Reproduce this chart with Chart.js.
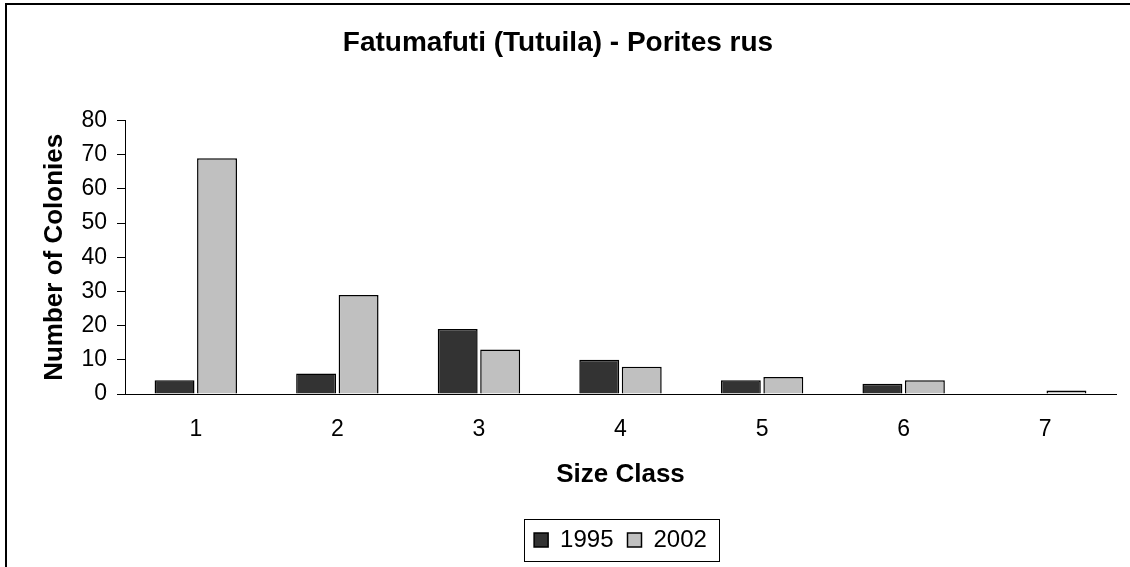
<!DOCTYPE html>
<html>
<head>
<meta charset="utf-8">
<script src="https://cdn.jsdelivr.net/npm/chart.js@4/dist/chart.umd.min.js"></script>
<style>
  html, body { margin: 0; padding: 0; background: #fff; overflow: hidden; }
  #wrap { width: 1130px; height: 567px; }
</style>
</head>
<body>
<div id="wrap"><canvas id="myChart" width="1130" height="567"></canvas></div>
<script>
const sizeClasses = ["1", "2", "3", "4", "5", "6", "7"];
const counts1995 = [4, 6, 19, 10, 4, 3, 0];
const counts2002 = [69, 29, 13, 8, 5, 4, 1];

// outer frame + box round the legend items
const framePlugin = {
  id: "frame",
  beforeDraw(chart) {
    const c = chart.ctx;
    c.save();
    c.fillStyle = "#fff";
    c.fillRect(0, 0, chart.width, chart.height);
    c.strokeStyle = "#000";
    c.lineWidth = 2;
    c.strokeRect(6, 4, 1200, 700);
    c.restore();
  },
  afterDraw(chart) {
    const boxes = chart.legend.legendHitBoxes;
    if (!boxes || !boxes.length) return;
    const left = Math.min(...boxes.map((b) => b.left)) - 10;
    const right = Math.max(...boxes.map((b) => b.left + b.width)) + 12;
    const mid = boxes[0].top + boxes[0].height / 2;
    const c = chart.ctx;
    c.save();
    c.strokeStyle = "#000";
    c.lineWidth = 1;
    c.strokeRect(Math.round(left) + 0.5, Math.round(mid - 21) + 0.5, Math.round(right - left), 42);
    c.restore();
  }
};

Chart.defaults.font.family = "Arial, 'Liberation Sans', sans-serif";
Chart.defaults.color = "#000";

const ctx = document.getElementById("myChart").getContext("2d");
new Chart(ctx, {
  type: "bar",
  data: {
    labels: sizeClasses,
    datasets: [
      {
        label: "1995",
        data: counts1995,
        backgroundColor: "#333333",
        borderColor: "#000",
        borderWidth: 1.5,
      },
      {
        label: "2002",
        data: counts2002,
        backgroundColor: "#c0c0c0",
        borderColor: "#000",
        borderWidth: 1.5,
      },
    ],
  },
  options: {
    responsive: false,
    animation: false,
    layout: { padding: { left: 0, right: 14, top: 0, bottom: 5 } },
    datasets: {
      bar: { categoryPercentage: 0.6, barPercentage: 0.94 },
    },
    plugins: {
      title: {
        display: true,
        text: "Fatumafuti (Tutuila) - Porites rus",
        font: { size: 28, weight: "bold" },
        padding: { top: 26, bottom: 61 },
      },
      legend: {
        position: "bottom",
        fullSize: false,
        labels: {
          boxWidth: 14,
          boxHeight: 14,
          font: { size: 24 },
          padding: 14,
          color: "#000",
        },
      },
      tooltip: { enabled: false },
    },
    scales: {
      x: {
        grid: { display: false, drawTicks: false, tickLength: 0 },
        border: { display: true, color: "#000", width: 1 },
        ticks: { font: { size: 23 }, padding: 22 },
        title: {
          display: true,
          text: "Size Class",
          font: { size: 26, weight: "bold" },
          padding: { top: 0, bottom: 24 },
        },
        afterFit(scale) {
          scale.height = 120;
        },
      },
      y: {
        min: 0,
        max: 80,
        ticks: { stepSize: 10, font: { size: 23 }, padding: 10 },
        grid: { drawOnChartArea: false, tickLength: 8, color: "#000" },
        border: { display: true, color: "#000", width: 1 },
        title: {
          display: true,
          text: "Number of Colonies",
          font: { size: 26, weight: "bold" },
          padding: { top: 39, bottom: 4 },
        },
        afterFit(scale) {
          scale.width = 125;
        },
      },
    },
  },
  plugins: [framePlugin],
});
</script>
</body>
</html>
